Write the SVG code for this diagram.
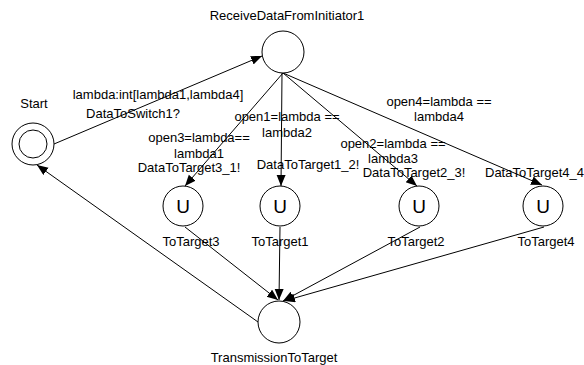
<svg xmlns="http://www.w3.org/2000/svg" width="584" height="365" viewBox="0 0 584 365">
<style>
text{font-family:"Liberation Sans",Arial,sans-serif;font-size:13px;fill:#000}
.m{text-anchor:middle}
.u{font-size:19px;text-anchor:middle}
.n{fill:#fff;stroke:#000;stroke-width:1}
.e{fill:none;stroke:#000;stroke-width:1;marker-end:url(#ah)}
</style>
<defs>
<marker id="ah" markerUnits="userSpaceOnUse" markerWidth="12" markerHeight="10" refX="11" refY="4.5" orient="auto">
<path d="M0,0 L11,4.5 L0,9 z" fill="#000"/>
</marker>
</defs>
<rect width="584" height="365" fill="#fff"/>
<g id="connectors">
<path class="e" d="M54,144 L262,56"/>
<path class="e" d="M283,73 L185,186"/>
<path class="e" d="M282,73 L281,186"/>
<path class="e" d="M283,73 L417,186"/>
<path class="e" d="M283,73 L542,185"/>
<path class="e" d="M185,227 L278,300"/>
<path class="e" d="M280,227 L279,300"/>
<path class="e" d="M420,227 L283,301"/>
<path class="e" d="M544,227 L284,301"/>
<path class="e" d="M258,322 L37,165"/>
<text x="158" y="99" class="m">lambda:int[lambda1,lambda4]</text>
<text x="133" y="118" class="m">DataToSwitch1?</text>
<text x="199" y="142" class="m">open3=lambda==</text>
<text x="199" y="158" class="m">lambda1</text>
<text x="189" y="172" class="m">DataToTarget3_1!</text>
<text x="287" y="121" class="m">open1=lambda ==</text>
<text x="287" y="137" class="m">lambda2</text>
<text x="308" y="169" class="m">DataToTarget1_2!</text>
<text x="393" y="148" class="m">open2=lambda ==</text>
<text x="393" y="163" class="m">lambda3</text>
<text x="414" y="177" class="m">DataToTarget2_3!</text>
<text x="439" y="106" class="m">open4=lambda ==</text>
<text x="439" y="121" class="m">lambda4</text>
<text x="485" y="177">DataToTarget4_4</text>
</g>
<g id="Start">
<circle class="n" cx="33" cy="144" r="21"/>
<circle class="n" cx="33" cy="144" r="14"/>
<text x="34" y="108" class="m">Start</text>
</g>
<g id="ReceiveDataFromInitiator1">
<circle class="n" cx="283" cy="52" r="21"/>
<text x="287" y="20" class="m">ReceiveDataFromInitiator1</text>
</g>
<g id="ToTarget3">
<circle class="n" cx="183" cy="206" r="20"/>
<text x="183" y="213" class="u">U</text>
<text x="191" y="246" class="m">ToTarget3</text>
</g>
<g id="ToTarget1">
<circle class="n" cx="280" cy="206" r="20"/>
<text x="280" y="213" class="u">U</text>
<text x="280" y="246" class="m">ToTarget1</text>
</g>
<g id="ToTarget2">
<circle class="n" cx="419" cy="206" r="20"/>
<text x="419" y="213" class="u">U</text>
<text x="416" y="246" class="m">ToTarget2</text>
</g>
<g id="ToTarget4">
<circle class="n" cx="543" cy="206" r="20"/>
<text x="543" y="213" class="u">U</text>
<text x="546" y="246" class="m">ToTarget4</text>
</g>
<g id="TransmissionToTarget">
<circle class="n" cx="279" cy="322" r="21"/>
<text x="274" y="362" class="m">TransmissionToTarget</text>
</g>
</svg>
